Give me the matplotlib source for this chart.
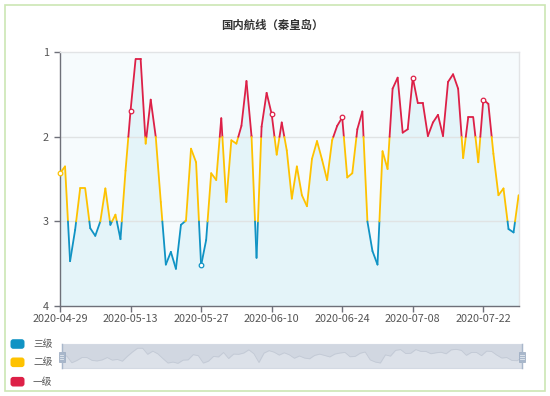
import matplotlib
matplotlib.use('Agg')
import matplotlib.pyplot as plt
import numpy as np
import pandas as pd
from matplotlib.collections import LineCollection
from matplotlib.patches import FancyBboxPatch, Rectangle

plt.rcParams['font.family'] = ['Noto Sans CJK SC', 'DejaVu Sans']

title = '国内航线（秦皇岛）'
dates = pd.date_range('2020-04-29', '2020-07-29').strftime('%Y-%m-%d').tolist()
values = [2.43, 2.35, 3.47, 3.10, 2.61, 2.61, 3.08, 3.17, 3.00, 2.61,
          3.04, 2.92, 3.21, 2.40, 1.69, 1.08, 1.08, 2.08, 1.56, 2.00,
          2.77, 3.51, 3.36, 3.56, 3.04, 2.99, 2.14, 2.30, 3.52, 3.22,
          2.43, 2.51, 1.78, 2.77, 2.04, 2.08, 1.87, 1.34, 1.99, 3.43,
          1.88, 1.48, 1.73, 2.21, 1.83, 2.16, 2.73, 2.35, 2.69, 2.82,
          2.26, 2.05, 2.27, 2.51, 2.04, 1.87, 1.77, 2.48, 2.43, 1.91,
          1.70, 3.00, 3.35, 3.51, 2.17, 2.38, 1.43, 1.30, 1.95, 1.91,
          1.30, 1.60, 1.60, 1.99, 1.83, 1.74, 1.99, 1.35, 1.26, 1.43,
          2.25, 1.77, 1.77, 2.30, 1.56, 1.61, 2.20, 2.69, 2.61, 3.09,
          3.13, 2.69]
tick_labels = ['2020-04-29', '2020-05-13', '2020-05-27', '2020-06-10',
               '2020-06-24', '2020-07-08', '2020-07-22']
y_ticks = [1, 2, 3, 4]
level_names = ['三级', '二级', '一级']
level_colors = ['#1093c4', '#fec200', '#dd2047']
thresholds = [2, 3]

W, H = 550, 396
fig = plt.figure(figsize=(5.5, 3.96), dpi=100)


def fx(px):
    return px / W


def fy(py):
    return 1 - py / H


def level_color(v):
    if v > 3:
        return level_colors[0]
    if v > 2:
        return level_colors[1]
    return level_colors[2]


x = np.arange(len(values))
y = np.array(values)
tick_idx = [dates.index(t) for t in tick_labels]

# main axes
ax = fig.add_axes([fx(60), fy(306), fx(518.6) - fx(60), fy(52.3) - fy(306)])
ax.set_xlim(0, len(values) - 1)
ax.set_ylim(4, 1)
ax.set_facecolor('#f6fbfd')
ax.fill_between(x, y, 4, color='#e4f4f9', lw=0, zorder=1)
for v in thresholds:
    ax.axhline(v, color='#e0e3e4', lw=1, zorder=1.5)

segs, cols = [], []
for i in range(len(x) - 1):
    x0, y0, x1, y1 = x[i], y[i], x[i + 1], y[i + 1]
    pts = [(x0, y0)]
    ts = []
    for t in thresholds:
        if (y0 - t) * (y1 - t) < 0:
            ts.append((t - y0) / (y1 - y0))
    ts.sort()
    for s in ts:
        pts.append((x0 + s * (x1 - x0), y0 + s * (y1 - y0)))
    pts.append((x1, y1))
    for a, b in zip(pts[:-1], pts[1:]):
        segs.append([a, b])
        cols.append(level_color((a[1] + b[1]) / 2))
lc = LineCollection(segs, colors=cols, linewidths=1.3, capstyle='round',
                    joinstyle='round', zorder=3)
ax.add_collection(lc)

for i in tick_idx:
    ax.plot(x[i], y[i], 'o', ms=3.3, mfc='white', mec=level_color(y[i]),
            mew=0.9, zorder=4, clip_on=False)

ax.set_xticks(tick_idx)
ax.set_xticklabels(tick_labels)
ax.set_yticks(y_ticks)
ax.tick_params(axis='both', colors='#6e7079', labelcolor='#555555',
               labelsize=7.8, length=4, width=1)
ax.tick_params(axis='x', pad=1.5)
ax.tick_params(axis='y', pad=4)
for s in ['left', 'bottom']:
    ax.spines[s].set_color('#6e7079')
    ax.spines[s].set_linewidth(1)
for s in ['top', 'right']:
    ax.spines[s].set_color('#e2e4e6')
    ax.spines[s].set_linewidth(1)

# data zoom slider
sax = fig.add_axes([fx(61.7), fy(367.5), fx(522) - fx(61.7), fy(344) - fy(367.5)])
sax.set_xlim(0, len(values) - 1)
sax.set_ylim(4.25, 0.385)
sax.set_facecolor('#d1d7e1')
sax.fill_between(x, y, 4.25, color='#dce1e9', lw=0)
sax.plot(x, y, color='#c2c9d5', lw=0.6)
sax.set_xticks([])
sax.set_yticks([])
for s in sax.spines.values():
    s.set_color('#d3d9e3')

# overlay in pixel coords
ov = fig.add_axes([0, 0, 1, 1])
ov.set_xlim(0, W)
ov.set_ylim(H, 0)
ov.axis('off')
ov.patch.set_alpha(0)

ov.add_patch(Rectangle((5, 4.5), 540, 386.5, fill=False, ec='#cce6b4', lw=1.2))
ov.text(272, 25, title, ha='center', va='center', fontsize=8.2,
        fontweight='bold', color='#333333')

for hx in [61.7, 522]:
    ov.plot([hx, hx], [344, 367.5], color='#a8b7cb', lw=1)
    ov.add_patch(Rectangle((hx - 3, 351.5), 6, 10, fc='#a8b7cb', ec='#9aaac0', lw=0.5))
    for gy in [354.5, 356.5, 358.5]:
        ov.plot([hx - 1.6, hx + 1.6], [gy, gy], color='#e6ebf1', lw=0.6)

legend_y = [344, 362.3, 381.7]
for name, col, ly in zip(level_names, level_colors, legend_y):
    ov.add_patch(FancyBboxPatch((10.5, ly - 4.8), 14, 9.6,
                                boxstyle='round,pad=0,rounding_size=2.8',
                                fc=col, ec='none'))
    ov.text(33, ly, name, ha='left', va='center', fontsize=7, color='#555555')

fig.savefig('out.png', dpi=100)
